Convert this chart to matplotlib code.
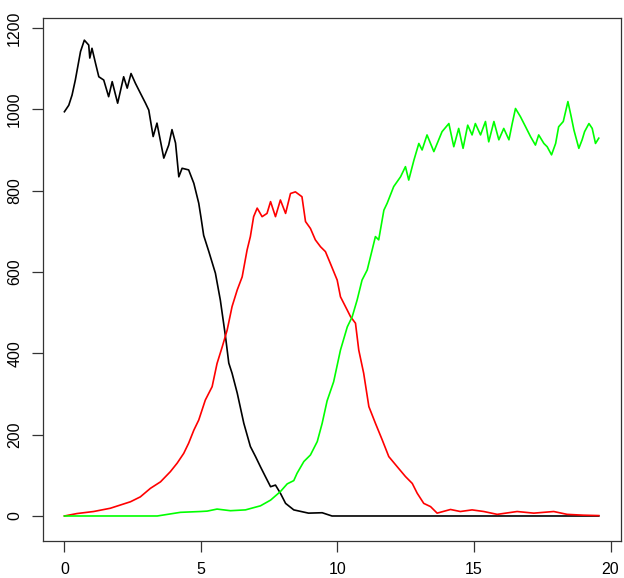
import matplotlib
matplotlib.use("Agg")
import matplotlib.pyplot as plt

# values
s_time = [0.0, 0.16, 0.28, 0.4, 0.59, 0.73, 0.89, 0.93, 1.01, 1.14, 1.26, 1.44, 1.62, 1.75,
          1.95, 2.17, 2.3, 2.44, 2.6, 2.78, 2.97, 3.09, 3.25, 3.39, 3.64, 3.82, 3.94, 4.07,
          4.19, 4.31, 4.55, 4.74, 4.92, 5.0, 5.1, 5.29, 5.53, 5.71, 5.9, 6.02, 6.14, 6.33, 6.57,
          6.81, 7.0, 7.18, 7.36, 7.55, 7.73, 7.91, 8.1, 8.4, 8.94, 9.44, 9.8, 19.57]
s_count = [994, 1010, 1035, 1072, 1142, 1170, 1158, 1126, 1150, 1113, 1080, 1072, 1031, 1068,
           1015, 1080, 1052, 1088, 1064, 1040, 1015, 998, 933, 966, 880, 912, 950, 917,
           834, 855, 851, 818, 769, 735, 690, 650, 597, 531, 441, 376, 351, 302, 228,
           171, 146, 121, 97, 72, 76, 56, 31, 15, 7, 8, 0, 0]

i_time = [0.0, 0.46, 1.07, 1.68, 2.05, 2.42, 2.78, 3.15, 3.52, 3.88, 4.13, 4.37, 4.55, 4.74,
          4.92, 5.16, 5.41, 5.59, 5.78, 5.96, 6.14, 6.33, 6.51, 6.69, 6.81, 6.93, 7.06, 7.24,
          7.42, 7.55, 7.73, 7.91, 8.1, 8.28, 8.46, 8.7, 8.83, 9.01, 9.19, 9.38, 9.56, 9.74,
          9.99, 10.11, 10.36, 10.48, 10.66, 10.78, 10.96, 11.15, 11.39, 11.64, 11.88, 12.19,
          12.49, 12.74, 12.92, 13.16, 13.41, 13.65, 14.14, 14.5, 14.93, 15.36, 15.85, 16.58,
          17.19, 17.92, 18.41, 19.0, 19.57]
i_count = [0, 6, 11, 19, 27, 35, 47, 68, 84, 109, 130, 154, 179, 211,
           236, 285, 318, 375, 416, 457, 515, 556, 588, 654, 687, 736, 757, 736,
           744, 773, 736, 777, 744, 793, 797, 785, 724, 707, 679, 662, 650, 621,
           580, 539, 506, 490, 474, 408, 351, 269, 228, 187, 146, 121,
           97, 80, 56, 31, 23, 7, 16, 11, 15, 11, 4, 11,
           7, 11, 4, 2, 1]

r_time = [0.0, 3.4, 4.25, 4.98, 5.23, 5.59, 6.08, 6.63, 7.18, 7.55, 7.91, 8.16, 8.4, 8.52,
          8.77, 9.01, 9.26, 9.44, 9.62, 9.86, 10.11, 10.36, 10.54, 10.72, 10.9, 11.09, 11.27,
          11.39, 11.51, 11.7, 11.82, 12.06, 12.31, 12.49, 12.61, 12.8, 12.98, 13.1, 13.28,
          13.53, 13.83, 14.08, 14.26, 14.44, 14.6, 14.77, 14.93, 15.05, 15.24, 15.42, 15.54,
          15.73, 15.91, 16.09, 16.28, 16.4, 16.52, 16.7, 16.89, 17.07, 17.25, 17.37, 17.56,
          17.68, 17.84, 17.99, 18.1, 18.27, 18.44, 18.56, 18.66, 18.84, 18.96, 19.05, 19.21,
          19.33, 19.45, 19.57]
r_count = [0, 0, 9, 11, 12, 17, 13, 15, 25, 39, 60, 79, 87, 105,
           134, 150, 183, 228, 283, 330, 408, 465, 490, 531, 580, 605, 654,
           687, 679, 752, 769, 810, 834, 859, 826, 875, 916, 900, 937,
           896, 945, 965, 908, 953, 904, 961, 937, 965, 937, 970, 920,
           970, 925, 953, 925, 965, 1002, 982, 957, 933, 912, 937, 916,
           908, 888, 916, 957, 970, 1019, 982, 949, 904, 925, 945, 965,
           953, 916, 929]

x_ticks = [0, 5, 10, 15, 20]
y_ticks = [0, 200, 400, 600, 800, 1000, 1200]

plt.rcParams["font.family"] = ["Liberation Sans", "DejaVu Sans"]

fig = plt.figure(figsize=(6.24, 5.78), dpi=100)
W, H = 624, 578
ax = fig.add_axes([43 / W, (H - 541) / H, (621 - 43) / W, (541 - 18) / H])

ax.plot(s_time, s_count, color="black", lw=1.2)
ax.plot(i_time, i_count, color="#ff0000", lw=1.2)
ax.plot(r_time, r_count, color="#00ff00", lw=1.2)

ax.set_xlim(-0.784, 20.384)
ax.set_ylim(-61.5, 1224.5)
ax.set_xticks(x_ticks)
ax.set_yticks(y_ticks)
ax.set_xticklabels([str(v) for v in x_ticks])
ax.set_yticklabels([str(v) for v in y_ticks], rotation=90, va="center")
ax.tick_params(direction="out", length=8, width=0.9, labelsize=11.5, pad=7,
               color="#333333", labelcolor="black")

for sp in ax.spines.values():
    sp.set_linewidth(0.9)
    sp.set_color("#333333")

fig.savefig("out.png", dpi=100)
